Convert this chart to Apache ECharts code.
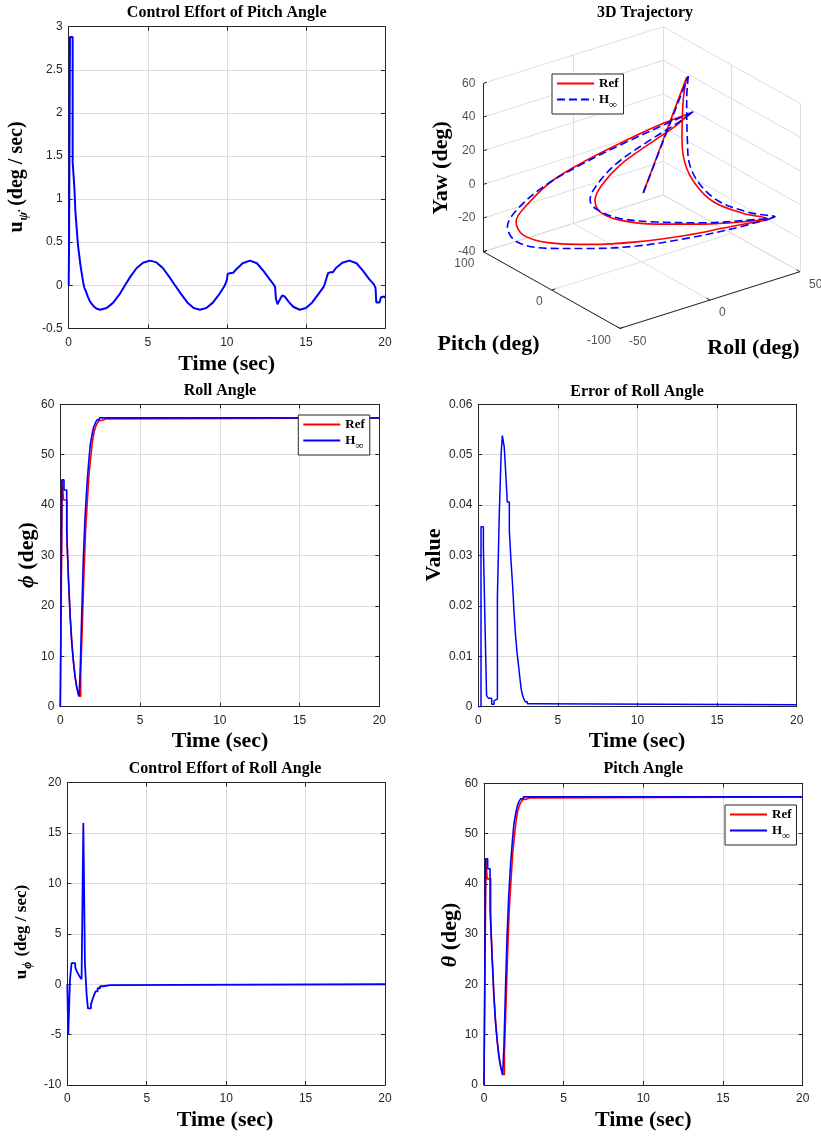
<!DOCTYPE html>
<html><head><meta charset="utf-8">
<script src="https://cdn.jsdelivr.net/npm/echarts@6.0.0/dist/echarts.min.js"></script>
<style>html,body{margin:0;padding:0;background:#fff}#c{width:821px;height:1137px}</style>
</head><body><div id="c"></div>
<script>
// ================= DATA =================
// Panel 1: control effort of pitch angle u_psi (time, value)
const uPsiTime = [0,0.02,0.08,0.08,0.25,0.25,0.36,0.36,0.42,0.42,0.50,0.50,0.59,0.59,0.67,0.67,0.76,0.76,0.84,0.84,0.92,0.92,0.99,0.99,1.09,1.2,1.35,1.56,1.75,1.98,2.4,2.8,3.2,3.56,3.9,4.3,4.7,5.14,5.55,5.95,6.35,6.72,7.1,7.5,7.9,8.3,8.7,9.1,9.5,9.85,10.0,10.05,10.2,10.4,10.6,11.0,11.46,11.9,12.3,12.7,12.95,13.05,13.1,13.2,13.3,13.4,13.5,13.65,13.9,14.2,14.6,15.0,15.4,15.8,16.15,16.3,16.4,16.55,16.7,16.9,17.3,17.75,18.2,18.6,19.0,19.3,19.4,19.45,19.55,19.65,19.75,19.85,19.95,20];
const uPsiValue = [0,0.41,0.41,2.88,2.88,1.43,1.43,1.13,1.13,0.87,0.87,0.67,0.67,0.46,0.46,0.34,0.34,0.21,0.21,0.12,0.12,0.03,0.03,-0.03,-0.07,-0.13,-0.19,-0.24,-0.27,-0.285,-0.265,-0.205,-0.11,0,0.1,0.2,0.26,0.285,0.265,0.2,0.1,0,-0.1,-0.2,-0.265,-0.285,-0.265,-0.205,-0.11,-0.01,0.06,0.13,0.14,0.145,0.185,0.255,0.285,0.255,0.17,0.07,0.01,-0.02,-0.15,-0.22,-0.22,-0.15,-0.12,-0.13,-0.19,-0.25,-0.285,-0.265,-0.2,-0.1,-0.01,0.08,0.14,0.15,0.15,0.2,0.26,0.285,0.255,0.17,0.07,0.01,-0.03,-0.2,-0.22,-0.2,-0.14,-0.12,-0.13,-0.15];

// Panel 2: 3D trajectory (roll, pitch, yaw in deg)
const refRoll3d  = [0.9,42.1,40.2,37.6,35.5,35.3,37.9,43.2,47.0,35.6,17.2,-3.0,-15.8,-19.3,-14.5,-8.9,-0.6,12.2,22.5,26.5,15.8,1.2,-13.5,-28.2,-36.4,-39.4,-37.3,-28.1,-13.5,2.9,21.2,35.8,47.0];
const refPitch3d = [0,45,45,40,30,15,-5,-35,-60,-55,-45,-30,-10,10,30,35,30,20,8,0,10,25,40,55,70,80,75,60,40,15,-10,-35,-60];
const refYaw3d   = [0.6,45.1,32.2,10.5,-0.4,-8.8,-16,-17.9,-16.5,-15.7,-13.2,-9.8,-7.7,-6.1,-5.3,0.5,10.8,21.6,31.8,39.2,34.6,26.2,16.8,5.5,-9.1,-21.2,-28.7,-33.0,-34.3,-32.6,-29.1,-23.3,-17.4];
const hinfRoll3d  = [0.9,43,42.1,40.6,37.9,37.7,40.7,46.9,49.4,35.6,17.2,-3.0,-16.5,-20.4,-15.4,-9.8,-1.7,11.5,23.5,28.7,15.8,0.5,-15.3,-29.9,-37.2,-38.5,-36.0,-27.4,-13.5,2.9,21.2,36.5,49.4];
const hinfPitch3d = [0,45,45,40,30,15,-5,-35,-65,-55,-45,-30,-10,12,35,40,32,21,8,0,10,28,45,65,85,95,88,62,40,15,-10,-38,-65];
const hinfYaw3d   = [0.6,45.5,31.6,9.5,-1.2,-9.6,-16.5,-18.7,-15.1,-15.0,-12.4,-8.6,-6.3,-4.8,-6.2,-0.3,11.7,22.8,33.0,39.4,33.5,23.7,13.3,-0.2,-16.2,-27.9,-36.1,-37.0,-36.7,-35.1,-31.0,-23.9,-15.5];
const traj3dBreaks = [1, 19];           // sharp corners of the path
const rollTicks3d  = [-50, 0, 50];
const pitchTicks3d = [-100, 0, 100];
const yawTicks3d   = [-40, -20, 0, 20, 40, 60];

// Panel 3: roll angle (zero-order-hold samples)
const rollRefTime  = [0,0.12,0.20,0.42,0.52,0.62,0.73,0.83,0.94,1.04,1.14,1.20,1.28,1.38,1.48,1.58,1.70,1.80,1.91,2.01,2.12,2.22,2.33,2.45,2.60,2.85,20];
const rollRef      = [0,45,41,33,25,18,12.5,8.8,5.8,3.8,2.3,2,6.3,16,26,34.5,41,46,49.5,52.5,54.5,55.6,56.3,56.8,57.1,57.3,57.3];
const rollHinfTime = [0,0.10,0.23,0.40,0.50,0.61,0.71,0.82,0.92,1.02,1.13,1.18,1.25,1.34,1.44,1.55,1.67,1.78,1.88,1.99,2.09,2.20,2.30,2.45,20];
const rollHinf     = [0,45,43,35,26,18.3,13,9,6,4,2.5,2,7.5,18,29,37.5,44,48.5,52,54,55.5,56.3,56.9,57.3,57.3];

// Panel 4: error of roll angle
const errTime  = [0,0.17,0.32,0.44,0.52,0.63,0.84,0.99,1.07,1.20,1.32,1.43,1.51,1.63,1.72,1.82,1.95,2.05,2.16,2.24,2.33,2.43,2.54,2.62,2.68,2.76,2.85,2.95,3.08,3.35,20];
const errValue = [0,0.0357,0.0317,0.0137,0.0022,0.0017,0.0005,0.0012,0.0015,0.0218,0.0385,0.0499,0.0538,0.0515,0.0466,0.0406,0.0349,0.0291,0.0238,0.0190,0.0145,0.0108,0.0078,0.0055,0.0038,0.0025,0.0016,0.0010,0.0006,0.0004,0.0004];

// Panel 5: control effort of roll angle
const uPhiTime  = [0,0.06,0.17,0.27,0.50,0.59,0.69,0.80,0.90,1.01,1.11,1.22,1.30,1.49,1.59,1.68,1.78,1.91,2.06,2.27,2.69,20];
const uPhiValue = [0,-5,0.5,2.1,1.7,1.3,1.0,0.7,0.5,16,2.0,-1.1,-2.4,-2.0,-1.5,-1.1,-0.7,-0.4,-0.2,-0.08,0,0];

// Panel 6: pitch angle
const pitchRefTime  = [0,0.12,0.20,0.42,0.52,0.62,0.73,0.83,0.94,1.04,1.14,1.20,1.28,1.38,1.48,1.58,1.70,1.80,1.91,2.01,2.12,2.22,2.33,2.45,2.60,2.85,20];
const pitchRef      = [0,45,41,33,25,18,12.5,8.8,5.8,3.8,2.3,2,6.3,16,26,34.5,41,46,49.5,52.5,54.5,55.6,56.3,56.8,57.1,57.3,57.3];
const pitchHinfTime = [0,0.10,0.23,0.38,0.50,0.61,0.71,0.82,0.92,1.02,1.13,1.17,1.25,1.34,1.44,1.55,1.67,1.78,1.88,1.99,2.09,2.20,2.30,2.47,20];
const pitchHinf     = [0,45,43,35,26,18.3,13,9,6,4,2.5,2,7.5,18,29,37.5,44,48.5,52,54,55.5,56.4,56.9,57.3,57.3];

// ================= CHART =================
const AX = '#262626', GRIDC = '#dcdcdc', BLUE = '#0000ff', RED = '#ff0000';
const SANS = '"Liberation Sans", Arial, sans-serif';
const SERIF = '"Liberation Serif", "Times New Roman", serif';

const grids = [], xAxes = [], yAxes = [], series = [], graphic = [], legends = [];

function panel(rect, xr, yr) {
  const gi = grids.length;
  grids.push({left: rect[0], top: rect[1], width: rect[2], height: rect[3], outerBoundsMode: 'none', containLabel: false});
  const line = {show: true, onZero: false, lineStyle: {color: AX, width: 1}};
  const tick = {show: true, inside: true, length: 4, lineStyle: {color: AX, width: 1}};
  const lab = {color: AX, fontSize: 12, fontFamily: SANS};
  const split = {show: true, lineStyle: {color: GRIDC, width: 1}};
  const xi = xAxes.length, yi = yAxes.length;
  const xb = {type: 'value', gridIndex: gi, min: xr[0], max: xr[1], interval: xr[2], axisLine: line, axisTick: tick};
  const yb = {type: 'value', gridIndex: gi, min: yr[0], max: yr[1], interval: yr[2], axisLine: line, axisTick: tick};
  xAxes.push(Object.assign({}, xb, {position: 'bottom', axisLabel: Object.assign({margin: 8}, lab), splitLine: split}));
  xAxes.push(Object.assign({}, xb, {position: 'top', axisLabel: {show: false}, splitLine: {show: false}}));
  yAxes.push(Object.assign({}, yb, {position: 'left', axisLabel: Object.assign({margin: 6}, lab), splitLine: split}));
  yAxes.push(Object.assign({}, yb, {position: 'right', axisLabel: {show: false}, splitLine: {show: false}}));
  return {xi, yi};
}
function stairs(t, v) {
  const out = [];
  for (let i = 0; i < t.length; i++) {
    out.push([t[i], v[i]]);
    if (i + 1 < t.length) out.push([t[i + 1], v[i]]);
  }
  return out;
}
function pairs(t, v) { return t.map((x, i) => [x, v[i]]); }
function lineSeries(name, data, ax, color, width, extra) {
  return Object.assign({type: 'line', name, data, xAxisIndex: ax.xi, yAxisIndex: ax.yi,
    showSymbol: false, symbol: 'none', silent: true, animation: false,
    lineStyle: {color, width}, itemStyle: {color}}, extra || {});
}
function txt(x, y, text, size, opt) {
  opt = opt || {};
  graphic.push({type: 'text', x, y, rotation: opt.rot || 0, silent: true,
    style: {text, fill: '#000', fontFamily: SERIF, fontSize: size, fontWeight: 'bold',
      align: 'center', verticalAlign: 'middle', textAlign: 'center', textVerticalAlign: 'middle', rich: opt.rich}});
}
const legendText = {fontFamily: SERIF, fontWeight: 'bold', fontSize: 13, color: '#000',
  rich: {h: {fontFamily: SERIF, fontWeight: 'bold', fontSize: 13, color: '#000'},
         s: {fontFamily: SERIF, fontWeight: 'bold', fontSize: 11, color: '#000', padding: [12, 0, 0, 0]}}};
function legendFmt(name) { return name.indexOf('Hinf') === 0 ? '{h|H}{s|∞}' : '{h|Ref}'; }
function addLegend(names, left, top) {
  legends.push({data: names, left, top, orient: 'vertical', itemWidth: 37, itemHeight: 14, itemGap: 3,
    padding: [3, 5, 3, 4], borderColor: AX, borderWidth: 1, backgroundColor: '#fff',
    selectedMode: false, formatter: legendFmt, textStyle: legendText, itemStyle: {opacity: 0}});
}

// ---- Panel 1
const p1 = panel([68.7, 26.7, 316.3, 301.6], [0, 20, 5], [-0.5, 3, 0.5]);
series.push(lineSeries('uPsi', pairs(uPsiTime, uPsiValue), p1, BLUE, 2));
txt(226.7, 13, 'Control Effort of Pitch Angle', 16);
txt(226.7, 364, 'Time (sec)', 22);
txt(17, 177, '{b|u}{s|ψ̇}{b| (deg / sec)}', 20, {rot: Math.PI / 2, rich: {
  b: {fontFamily: SERIF, fontSize: 20, fontWeight: 'bold'},
  s: {fontFamily: SERIF, fontSize: 13, fontStyle: 'italic', fontWeight: 'bold', padding: [14, 1, 0, 1]}}});

// ---- Panel 2 (3D projection, MATLAB default view)
const R0 = rollTicks3d[0], R1 = rollTicks3d[rollTicks3d.length - 1];
const P0 = pitchTicks3d[0], P1 = pitchTicks3d[pitchTicks3d.length - 1];
const Y0 = yawTicks3d[0], Y1 = yawTicks3d[yawTicks3d.length - 1];
function proj(r, p, y) {
  return [1.8 * (r - R0) - 0.6835 * (p - P0),
          0.567 * (r - R0) + 0.3835 * (p - P0) + 1.683 * (y - Y0)];
}
const uMin = proj(R0, P1, Y0)[0], uMax = proj(R1, P0, Y0)[0];
const vMin = proj(R0, P0, Y0)[1], vMax = proj(R1, P1, Y1)[1];
const g3 = grids.length;
grids.push({left: 483.3, top: 26.7, width: uMax - uMin, height: vMax - vMin, outerBoundsMode: 'none', containLabel: false});
const a3 = {xi: xAxes.length, yi: yAxes.length};
xAxes.push({type: 'value', gridIndex: g3, min: uMin, max: uMax, show: false});
yAxes.push({type: 'value', gridIndex: g3, min: vMin, max: vMax, show: false});

const gridSegs = [], axisSegs = [], tickSegs = [];
rollTicks3d.forEach(r => { gridSegs.push([proj(r, P0, Y0), proj(r, P1, Y0)]); gridSegs.push([proj(r, P1, Y0), proj(r, P1, Y1)]); });
pitchTicks3d.forEach(p => { gridSegs.push([proj(R0, p, Y0), proj(R1, p, Y0)]); gridSegs.push([proj(R1, p, Y0), proj(R1, p, Y1)]); });
yawTicks3d.forEach(y => { gridSegs.push([proj(R0, P1, y), proj(R1, P1, y)]); gridSegs.push([proj(R1, P0, y), proj(R1, P1, y)]); });
axisSegs.push([proj(R0, P1, Y0), proj(R0, P1, Y1)]);
axisSegs.push([proj(R0, P0, Y0), proj(R0, P1, Y0)]);
axisSegs.push([proj(R0, P0, Y0), proj(R1, P0, Y0)]);
yawTicks3d.forEach(y => tickSegs.push([proj(R0, P1, y), proj(R0 + 2, P1, y)]));
pitchTicks3d.forEach(p => tickSegs.push([proj(R0, p, Y0), proj(R0 + 2, p, Y0)]));
rollTicks3d.forEach(r => tickSegs.push([proj(r, P0, Y0), proj(r, P0 + 5, Y0)]));
function segSeries(segs, color) {
  return {type: 'lines', coordinateSystem: 'cartesian2d', xAxisIndex: a3.xi, yAxisIndex: a3.yi,
    polyline: false, silent: true, animation: false, clip: false,
    data: segs.map(s => ({coords: s})), lineStyle: {color, width: 1, opacity: 1}};
}
series.push(segSeries(gridSegs, '#dedede'));
series.push(segSeries(axisSegs.concat(tickSegs), AX));

function labelSeries(items, labelOpt) {
  return {type: 'scatter', xAxisIndex: a3.xi, yAxisIndex: a3.yi, silent: true, animation: false, clip: false,
    symbolSize: 1, itemStyle: {color: 'rgba(0,0,0,0)'}, data: items,
    label: Object.assign({show: true, formatter: '{b}', position: 'inside', verticalAlign: 'middle',
      color: AX, fontSize: 12, fontFamily: SANS}, labelOpt)};
}
series.push(labelSeries(yawTicks3d.map(y => ({name: String(y), value: proj(R0, P1, y)})), {align: 'right', offset: [-8, 0]}));
series.push(labelSeries(pitchTicks3d.map(p => ({name: String(p), value: proj(R0, p, Y0)})), {align: 'right', offset: [-9, 12]}));
series.push(labelSeries(rollTicks3d.map(r => ({name: String(r), value: proj(r, P0, Y0)})), {align: 'left', offset: [9, 13]}));

function trajSeries(name, R, P, Y, color, dashed) {
  const pts = R.map((r, i) => proj(r, P[i], Y[i]));
  const cuts = [0].concat(traj3dBreaks, [pts.length - 1]);
  for (let k = 0; k + 1 < cuts.length; k++) {
    const seg = pts.slice(cuts[k], cuts[k + 1] + 1);
    series.push(lineSeries(name, seg, a3, color, 1.6, {smooth: k === 0 ? false : 0.35,
      clip: false, lineStyle: {color, width: 1.6, type: dashed ? [8, 4] : 'solid'}}));
  }
}
trajSeries('Ref3D', refRoll3d, refPitch3d, refYaw3d, RED, false);
trajSeries('Hinf3D', hinfRoll3d, hinfPitch3d, hinfYaw3d, BLUE, true);
addLegend(['Ref3D', 'Hinf3D'], 552, 74);
txt(645, 13, '3D Trajectory', 16);
txt(441.7, 168, 'Yaw (deg)', 22, {rot: Math.PI / 2});
txt(488.5, 344, 'Pitch (deg)', 22);
txt(753.5, 348, 'Roll (deg)', 22);

// ---- Panel 3
const p3 = panel([60.3, 404.3, 319, 302.4], [0, 20, 5], [0, 60, 10]);
series.push(lineSeries('RefRoll', stairs(rollRefTime, rollRef), p3, RED, 1.6));
series.push(lineSeries('HinfRoll', stairs(rollHinfTime, rollHinf), p3, BLUE, 1.6));
addLegend(['RefRoll', 'HinfRoll'], 298.3, 415);
txt(220, 391, 'Roll Angle', 16);
txt(220, 741, 'Time (sec)', 22);
txt(27, 555, '{g|ϕ}{b| (deg)}', 22, {rot: Math.PI / 2, rich: {
  b: {fontFamily: SERIF, fontSize: 22, fontWeight: 'bold'},
  g: {fontFamily: SERIF, fontSize: 22, fontStyle: 'italic', fontWeight: 'bold'}}});

// ---- Panel 4
const p4 = panel([478.3, 404.3, 318.4, 302.4], [0, 20, 5], [0, 0.06, 0.01]);
series.push(lineSeries('Error', stairs(errTime, errValue), p4, BLUE, 1.5));
txt(637, 391.7, 'Error of Roll Angle', 16);
txt(637, 741, 'Time (sec)', 22);
txt(434, 555, 'Value', 22, {rot: Math.PI / 2});

// ---- Panel 5
const p5 = panel([67.3, 782.7, 317.7, 302.3], [0, 20, 5], [-10, 20, 5]);
series.push(lineSeries('uPhi', stairs(uPhiTime, uPhiValue), p5, BLUE, 1.8));
txt(225, 769, 'Control Effort of Roll Angle', 16);
txt(225, 1120, 'Time (sec)', 22);
txt(22, 932, '{b|u}{s|ϕ}{b| (deg / sec)}', 17, {rot: Math.PI / 2, rich: {
  b: {fontFamily: SERIF, fontSize: 17, fontWeight: 'bold'},
  s: {fontFamily: SERIF, fontSize: 12, fontStyle: 'italic', fontWeight: 'bold', padding: [12, 1, 0, 1]}}});

// ---- Panel 6
const p6 = panel([484, 783.3, 318.7, 301.7], [0, 20, 5], [0, 60, 10]);
series.push(lineSeries('RefPitch', stairs(pitchRefTime, pitchRef), p6, RED, 1.6));
series.push(lineSeries('HinfPitch', stairs(pitchHinfTime, pitchHinf), p6, BLUE, 1.6));
addLegend(['RefPitch', 'HinfPitch'], 725, 805);
txt(643.3, 769, 'Pitch Angle', 16);
txt(643.3, 1120, 'Time (sec)', 22);
txt(450, 935, '{g|θ}{b| (deg)}', 22, {rot: Math.PI / 2, rich: {
  b: {fontFamily: SERIF, fontSize: 22, fontWeight: 'bold'},
  g: {fontFamily: SERIF, fontSize: 22, fontStyle: 'italic', fontWeight: 'bold'}}});

const chart = echarts.init(document.getElementById('c'), null, {renderer: 'canvas'});
chart.setOption({
  animation: false,
  backgroundColor: '#ffffff',
  grid: grids, xAxis: xAxes, yAxis: yAxes,
  legend: legends, series: series, graphic: graphic
});
</script></body></html>
